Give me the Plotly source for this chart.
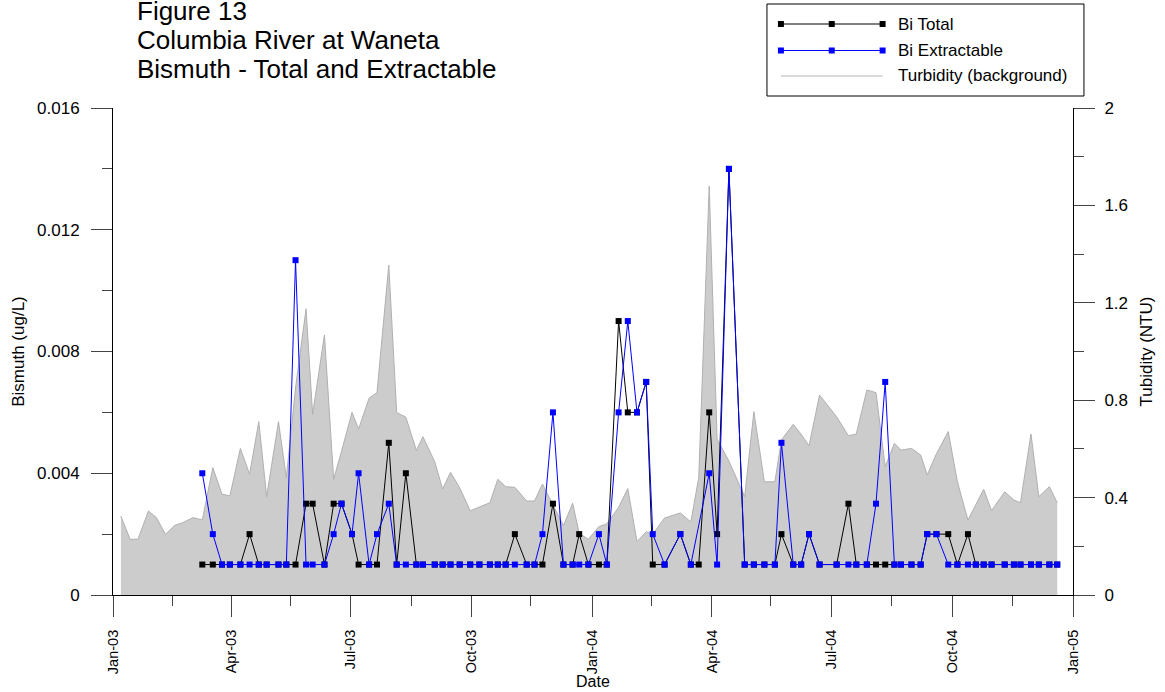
import plotly.graph_objects as go

FONT = "Liberation Sans, Arial, sans-serif"

# ---- data ----
pre_dates = ["2003-01-07", "2003-01-14", "2003-01-20", "2003-01-28", "2003-02-03",
             "2003-02-10", "2003-02-17", "2003-02-23", "2003-03-03"]
pre_turbidity = [0.324, 0.229, 0.229, 0.345, 0.318, 0.249, 0.286, 0.297, 0.318]

sample_dates = [
    "2003-03-10", "2003-03-18", "2003-03-25", "2003-03-31", "2003-04-08", "2003-04-15",
    "2003-04-22", "2003-04-28", "2003-05-07", "2003-05-13", "2003-05-20", "2003-05-28",
    "2003-06-02", "2003-06-11", "2003-06-18", "2003-06-24", "2003-07-02", "2003-07-07",
    "2003-07-15", "2003-07-21", "2003-07-30", "2003-08-05", "2003-08-12", "2003-08-20",
    "2003-08-25", "2003-09-03", "2003-09-09", "2003-09-15", "2003-09-22", "2003-09-30",
    "2003-10-07", "2003-10-15", "2003-10-21", "2003-10-27", "2003-11-03", "2003-11-12",
    "2003-11-18", "2003-11-24", "2003-12-02", "2003-12-10", "2003-12-17", "2003-12-22",
    "2003-12-29", "2004-01-06", "2004-01-12", "2004-01-21", "2004-01-28", "2004-02-04",
    "2004-02-11", "2004-02-16", "2004-02-25", "2004-03-08", "2004-03-16", "2004-03-22",
    "2004-03-30", "2004-04-05", "2004-04-14", "2004-04-26", "2004-05-03", "2004-05-11",
    "2004-05-19", "2004-05-24", "2004-06-02", "2004-06-08", "2004-06-14", "2004-06-22",
    "2004-07-05", "2004-07-14", "2004-07-20", "2004-07-28", "2004-08-04", "2004-08-11",
    "2004-08-18", "2004-08-23", "2004-08-31", "2004-09-07", "2004-09-12", "2004-09-19",
    "2004-09-28", "2004-10-05", "2004-10-13", "2004-10-19", "2004-10-25", "2004-10-31",
    "2004-11-10", "2004-11-17", "2004-11-22", "2004-11-30", "2004-12-06", "2004-12-14",
    "2004-12-20",
]

bi_total = [
    0.001, 0.001, 0.001, 0.001, 0.001, 0.002, 0.001, 0.001, 0.001, 0.001,
    0.001, 0.003, 0.003, 0.001, 0.003, 0.003, 0.002, 0.001, 0.001, 0.001,
    0.005, 0.001, 0.004, 0.001, 0.001, 0.001, 0.001, 0.001, 0.001, 0.001,
    0.001, 0.001, 0.001, 0.001, 0.002, 0.001, 0.001, 0.001, 0.003, 0.001,
    0.001, 0.002, 0.001, 0.001, 0.001, 0.009, 0.006, 0.006, 0.007, 0.001,
    0.001, 0.002, 0.001, 0.001, 0.006, 0.002, 0.014, 0.001, 0.001, 0.001,
    0.001, 0.002, 0.001, 0.001, 0.002, 0.001, 0.001, 0.003, 0.001, 0.001,
    0.001, 0.001, 0.001, 0.001, 0.001, 0.001, 0.002, 0.002, 0.002, 0.001,
    0.002, 0.001, 0.001, 0.001, 0.001, 0.001, 0.001, 0.001, 0.001, 0.001,
    0.001,
]

bi_extractable = [
    0.004, 0.002, 0.001, 0.001, 0.001, 0.001, 0.001, 0.001, 0.001, 0.001,
    0.011, 0.001, 0.001, 0.001, 0.002, 0.003, 0.002, 0.004, 0.001, 0.002,
    0.003, 0.001, 0.001, 0.001, 0.001, 0.001, 0.001, 0.001, 0.001, 0.001,
    0.001, 0.001, 0.001, 0.001, 0.001, 0.001, 0.001, 0.002, 0.006, 0.001,
    0.001, 0.001, 0.001, 0.002, 0.001, 0.006, 0.009, 0.006, 0.007, 0.002,
    0.001, 0.002, 0.001, None, 0.004, 0.001, 0.014, 0.001, 0.001, 0.001,
    0.001, 0.005, 0.001, 0.001, 0.002, 0.001, 0.001, 0.001, 0.001, 0.001,
    0.003, 0.007, 0.001, 0.001, 0.001, 0.001, 0.002, 0.002, 0.001, 0.001,
    0.001, 0.001, 0.001, 0.001, 0.001, 0.001, 0.001, 0.001, 0.001, 0.001,
    0.001,
]

sample_turbidity = [
    0.308, 0.523, 0.414, 0.407, 0.602, 0.496, 0.712, 0.404, 0.712, 0.482,
    0.850, 1.175, 0.742, 1.068, 0.475, 0.590, 0.750, 0.682, 0.808, 0.831,
    1.355, 0.750, 0.730, 0.594, 0.650, 0.547, 0.435, 0.504, 0.440, 0.346,
    0.360, 0.379, 0.475, 0.445, 0.442, 0.386, 0.386, 0.456, 0.370, 0.285,
    0.377, 0.253, 0.229, 0.281, 0.292, 0.360, 0.437, 0.219, 0.260, 0.250,
    0.316, 0.337, 0.300, 0.482, 1.680, 0.640, 0.550, 0.404, 0.753, 0.465,
    0.465, 0.637, 0.701, 0.660, 0.613, 0.821, 0.732, 0.654, 0.661, 0.842,
    0.831, 0.527, 0.623, 0.595, 0.602, 0.575, 0.493, 0.580, 0.671, 0.465,
    0.308, 0.370, 0.434, 0.346, 0.424, 0.390, 0.379, 0.661, 0.404, 0.445,
    0.379,
]

x_tick_vals = ["2003-01-01", "2003-04-01", "2003-07-01", "2003-10-01", "2004-01-01",
               "2004-04-01", "2004-07-01", "2004-10-01", "2005-01-01"]
x_tick_text = ["Jan-03", "Apr-03", "Jul-03", "Oct-03", "Jan-04",
               "Apr-04", "Jul-04", "Oct-04", "Jan-05"]
x_minor_vals = ["2003-02-15", "2003-05-16", "2003-08-16", "2003-11-15",
                "2004-02-15", "2004-05-16", "2004-08-16", "2004-11-16"]

bi_tick_vals = [0, 0.004, 0.008, 0.012, 0.016]
bi_tick_text = ["0", "0.004", "0.008", "0.012", "0.016"]
bi_minor_vals = [0.002, 0.006, 0.010, 0.014]

turb_tick_vals = [0, 0.4, 0.8, 1.2, 1.6, 2.0]
turb_tick_text = ["0", "0.4", "0.8", "1.2", "1.6", "2"]
turb_minor_vals = [0.2, 0.6, 1.0, 1.4, 1.8]

title_lines = ["Figure 13", "Columbia River at Waneta", "Bismuth - Total and Extractable"]
legend_labels = ["Bi Total", "Bi Extractable", "Turbidity (background)"]
x_title = "Date"

# ---- figure ----
turb_dates = pre_dates + sample_dates
turb_values = pre_turbidity + sample_turbidity

fig = go.Figure()
fig.add_trace(go.Scatter(
    x=turb_dates, y=turb_values, yaxis="y", mode="lines", fill="tozeroy",
    fillcolor="#cccccc", line=dict(color="#b0b0b0", width=1),
    name=legend_labels[2], hoverinfo="skip"))
fig.add_trace(go.Scatter(
    x=sample_dates, y=bi_total, yaxis="y2", mode="lines+markers",
    line=dict(color="black", width=1),
    marker=dict(symbol="square", size=6, color="black", line=dict(width=0)),
    name=legend_labels[0]))
fig.add_trace(go.Scatter(
    x=sample_dates, y=bi_extractable, yaxis="y2", mode="lines+markers",
    connectgaps=True, line=dict(color="#0000ff", width=1),
    marker=dict(symbol="square", size=6, color="#0000ff", line=dict(width=0)),
    name=legend_labels[1]))

W, H = 1165, 692
ML, MR, MT, MB = 113, 89, 108, 97
PW, PH = W - ML - MR, H - MT - MB


def px_x(x):
    return (x - ML) / PW


def px_y(y):
    return (H - MB - y) / PH


shapes = []
annotations = []

# title lines
for text, yc in zip(title_lines, [11, 40, 68.5]):
    annotations.append(dict(text=text, x=px_x(135), y=px_y(yc), xref="paper", yref="paper",
                            xanchor="left", yanchor="middle", showarrow=False,
                            font=dict(size=26, family=FONT, color="black")))

# x axis title
annotations.append(dict(text=x_title, x=px_x(594), y=px_y(681), xref="paper", yref="paper",
                        xanchor="center", yanchor="middle", showarrow=False,
                        font=dict(size=16, family=FONT, color="black")))

# legend box
shapes.append(dict(type="rect", xref="paper", yref="paper",
                   x0=px_x(769), x1=px_x(1087), y0=px_y(96), y1=px_y(4),
                   line=dict(color="black", width=1), fillcolor="white", layer="above"))
legend_styles = [("black", True), ("#0000ff", True), ("#b4b4b4", False)]
for (color, has_marker), label, yc in zip(legend_styles, legend_labels, [24, 50.5, 76]):
    shapes.append(dict(type="line", xref="paper", yref="paper",
                       x0=px_x(783), x1=px_x(885), y0=px_y(yc), y1=px_y(yc),
                       line=dict(color=color, width=1), layer="above"))
    if has_marker:
        for xm in (783, 834, 885):
            shapes.append(dict(type="rect", xref="paper", yref="paper",
                               xsizemode="pixel", ysizemode="pixel",
                               xanchor=px_x(xm), yanchor=px_y(yc),
                               x0=-3, x1=3, y0=-3, y1=3,
                               fillcolor=color, line=dict(width=0), layer="above"))
    annotations.append(dict(text=label, x=px_x(898), y=px_y(yc), xref="paper", yref="paper",
                            xanchor="left", yanchor="middle", showarrow=False,
                            font=dict(size=17, family=FONT, color="black")))

axis_common = dict(showgrid=False, zeroline=False, showline=True, linecolor="black",
                   linewidth=1, ticks="outside", ticklen=21, tickwidth=1, tickcolor="#444")

fig.update_layout(
    width=W, height=H,
    margin=dict(l=ML, r=MR, t=MT, b=MB),
    paper_bgcolor="white", plot_bgcolor="white",
    font=dict(family=FONT, size=17, color="black"),
    showlegend=False,
    shapes=shapes, annotations=annotations,
    xaxis=dict(type="date", range=["2003-01-01", "2005-01-01"],
               tickvals=x_tick_vals, ticktext=x_tick_text, tickangle=-90,
               tickfont=dict(size=14.5), ticklabelstandoff=7,
               minor=dict(tickvals=x_minor_vals, ticks="outside", ticklen=10,
                          tickcolor="#444", showgrid=False),
               **axis_common),
    yaxis=dict(side="right", range=[0, 2], tickvals=turb_tick_vals, ticktext=turb_tick_text,
               tickfont=dict(size=17), ticklabelstandoff=6,
               minor=dict(tickvals=turb_minor_vals, ticks="outside", ticklen=10,
                          tickcolor="#444", showgrid=False),
               title=dict(text="Tubidity (NTU)", font=dict(size=17), standoff=13),
               **axis_common),
    yaxis2=dict(side="left", overlaying="y", range=[0, 0.016],
                tickvals=bi_tick_vals, ticktext=bi_tick_text,
                tickfont=dict(size=17), ticklabelstandoff=8,
                minor=dict(tickvals=bi_minor_vals, ticks="outside", ticklen=10,
                           tickcolor="#444", showgrid=False),
                title=dict(text="Bismuth (ug/L)", font=dict(size=17), standoff=8),
                **axis_common),
)

fig.write_html("out.html",
               config={"displayModeBar": False},
               post_script="document.body.style.margin='0';document.body.style.padding='0';")
